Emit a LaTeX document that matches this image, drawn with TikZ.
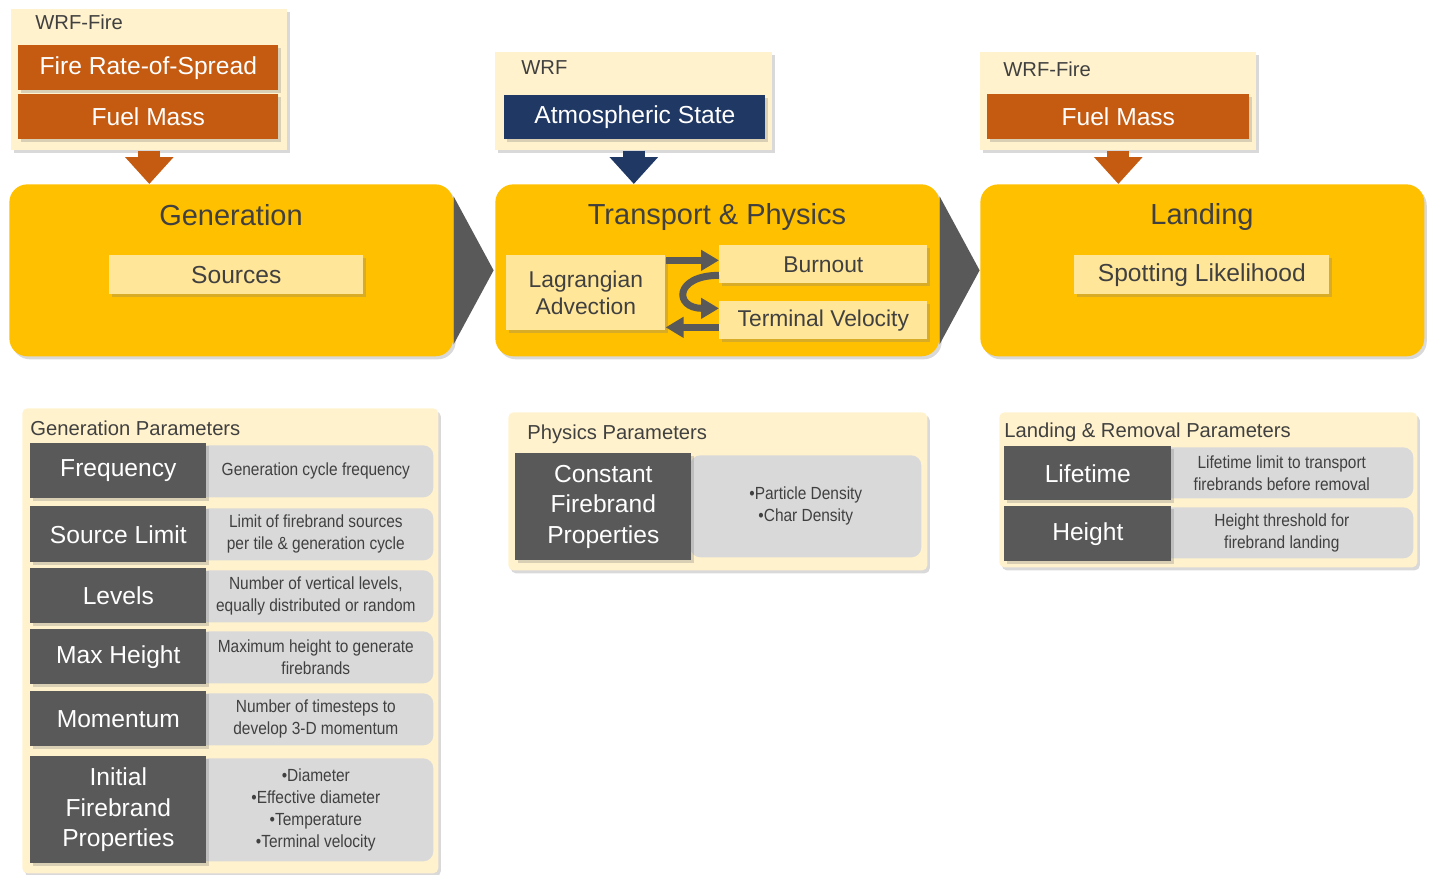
\documentclass[tikz,border=0pt]{standalone}
\usepackage{fontspec}
\setmainfont{Liberation Sans}
\newfontfamily\narrowfont[FakeStretch=0.88]{Liberation Sans}
\usetikzlibrary{shadows,arrows.meta}

\definecolor{gold}{HTML}{FFC000}
\definecolor{paleyellow}{HTML}{FFF2CC}
\definecolor{softyellow}{HTML}{FFE699}
\definecolor{rust}{HTML}{C55A11}
\definecolor{navy}{HTML}{203864}
\definecolor{slate}{HTML}{595959}
\definecolor{mist}{HTML}{D9D9D9}
\definecolor{ink}{HTML}{404040}

\begin{document}
\begin{tikzpicture}[x = 0.02cm, y = -0.02cm,
            every node/.style = {inner sep = 0pt, anchor = north west, align = center},
            lift/.style = {drop shadow = {shadow xshift = 0.05cm, shadow yshift = -0.06cm, opacity = 0.3}},
            srcbox/.style = {fill = paleyellow, lift},
            bar/.style = {fill = #1, text = white, minimum width = 5.2cm, minimum height = 0.9cm,
                font = \fontsize{14}{17}\selectfont, lift},
            stage/.style = {fill = gold, rounded corners = 0.36cm, minimum width = 8.88cm,
                minimum height = 3.44cm, lift},
            stagetitle/.style = {anchor = base, text = ink, font = \fontsize{16.5}{20}\selectfont},
            subbox/.style = {fill = softyellow, text = ink, font = \fontsize{14}{16}\selectfont, lift},
            caption/.style = {anchor = base west, text = ink, font = \fontsize{11.5}{14}\selectfont},
            panel/.style = {fill = paleyellow, rounded corners = 0.1cm, lift},
            param/.style = {fill = slate, text = white, font = \fontsize{14}{17.3}\selectfont, lift},
            note/.style = {fill = mist, rounded corners = 0.2cm, text = ink,
                font = \narrowfont\fontsize{10}{12.5}\selectfont},
            feed/.style = {draw = #1, line width = 0.44cm, -{Triangle[width = 0.94cm, length = 0.54cm]}},
            flow/.style = {draw = slate, line width = 0.14cm, -{Triangle[width = 0.4cm, length = 0.36cm]}},
            chevron/.style = {fill = slate}]
            \useasboundingbox (0,0) rectangle (1431,875);

            % model inputs
            \node[srcbox, minimum width = 5.52cm, minimum height = 2.82cm] (wrffire) at (11,9) {};
            \node[caption] (wrffirelbl) at (35,30) {WRF-Fire};
            \node[bar = rust] (spread) at (18,45) {Fire Rate-of-Spread};
            \node[bar = rust] (fuel) at (18,94) {Fuel Mass};

            \node[srcbox, minimum width = 5.54cm, minimum height = 1.96cm] (wrf) at (495,52) {};
            \node[caption] (wrflbl) at (521,75) {WRF};
            \node[bar = navy, minimum width = 5.22cm, minimum height = 0.88cm] (atmos) at (504,95) {Atmospheric State};

            \node[srcbox, minimum width = 5.52cm, minimum height = 1.96cm] (wrffire2) at (980,52) {};
            \node[caption] (wrffire2lbl) at (1003,77) {WRF-Fire};
            \node[bar = rust, minimum width = 5.24cm] (fuel2) at (987,94) {Fuel Mass};

            % stages
            \node[stage] (gen) at (9,184) {};
            \node[stage] (trans) at (495,184) {};
            \node[stage] (land) at (980,184) {};
            \fill[chevron] (gen.east) ++(0,-74) -- ++(40,74) -- ++(-40,74) -- cycle;
            \fill[chevron] (trans.east) ++(0,-74) -- ++(40,74) -- ++(-40,74) -- cycle;

            \node[stagetitle] (gentitle) at (231,225) {Generation};
            \node[stagetitle] (transtitle) at (717,224) {Transport \& Physics};
            \node[stagetitle] (landtitle) at (1202,224) {Landing};

            \draw[feed = rust] (wrffire.south) -- (wrffire.south |- gen.north);
            \draw[feed = navy] (wrf.south) -- (wrf.south |- trans.north);
            \draw[feed = rust] (wrffire2.south) -- (wrffire2.south |- land.north);

            \node[subbox, minimum width = 5.08cm, minimum height = 0.78cm] (sources) at (109,255) {Sources};
            \node[subbox, minimum width = 3.18cm, minimum height = 1.5cm,
                font = \fontsize{13}{15.9}\selectfont] (lagr) at (506,255) {Lagrangian\\Advection};
            \node[subbox, minimum width = 4.16cm, minimum height = 0.76cm,
                font = \fontsize{13}{15}\selectfont] (burn) at (719,245) {Burnout};
            \node[subbox, minimum width = 4.16cm, minimum height = 0.76cm,
                font = \fontsize{13}{15}\selectfont] (term) at (719,301) {Terminal Velocity};
            \node[subbox, minimum width = 5.1cm, minimum height = 0.78cm] (spot) at (1074,255) {Spotting Likelihood};

            \coordinate (toburn) at ([yshift = 0.08cm]burn.west);
            \coordinate (fromterm) at ([yshift = -0.14cm]term.west);
            \draw[flow] (toburn -| lagr.east) -- (toburn);
            \draw[flow] (fromterm) -- (fromterm -| lagr.east);
            \draw[flow] ([yshift = -0.22cm]burn.west) .. controls +(-45,0) and +(-45,0) .. ([yshift = 0.24cm]term.west);

            % generation parameters
            \node[panel, minimum width = 8.32cm, minimum height = 9.3cm] (genpar) at (22,408) {};
            \node[caption] (genparlbl) at (30,435) {Generation Parameters};

            \node[note, minimum width = 4.7cm, minimum height = 1.04cm] (freqnote) at (198,445) {Generation cycle frequency};
            \node[param, minimum width = 3.52cm, minimum height = 1.1cm] (freq) at (30,443) {Frequency};
            \node[note, minimum width = 4.7cm, minimum height = 1.04cm] (limitnote) at (198,508) {Limit of firebrand sources\\per tile \& generation cycle};
            \node[param, minimum width = 3.52cm, minimum height = 1.12cm] (limit) at (30,506) {Source Limit};
            \node[note, minimum width = 4.7cm, minimum height = 1.04cm] (levelsnote) at (198,570) {Number of vertical levels,\\equally distributed or random};
            \node[param, minimum width = 3.52cm, minimum height = 1.1cm] (levels) at (30,568) {Levels};
            \node[note, minimum width = 4.7cm, minimum height = 1.04cm] (maxhnote) at (198,631) {Maximum height to generate\\firebrands};
            \node[param, minimum width = 3.52cm, minimum height = 1.1cm] (maxh) at (30,629) {Max Height};
            \node[note, minimum width = 4.7cm, minimum height = 1.04cm] (momnote) at (198,693) {Number of timesteps to\\develop 3-D momentum};
            \node[param, minimum width = 3.52cm, minimum height = 1.1cm] (mom) at (30,691) {Momentum};
            \node[note, minimum width = 4.7cm, minimum height = 2.06cm] (initnote) at (198,758) {•Diameter\\•Effective diameter\\•Temperature\\•Terminal velocity};
            \node[param, minimum width = 3.52cm, minimum height = 2.14cm] (init) at (30,756) {Initial\\Firebrand\\Properties};

            % physics parameters
            \node[panel, minimum width = 8.38cm, minimum height = 3.16cm] (phypar) at (508,412) {};
            \node[caption] (phyparlbl) at (527,439) {Physics Parameters};
            \node[note, minimum width = 4.62cm, minimum height = 2.04cm] (constnote) at (690,455) {•Particle Density\\•Char Density};
            \node[param, minimum width = 3.52cm, minimum height = 2.14cm] (const) at (515,453) {Constant\\Firebrand\\Properties};

            % landing parameters
            \node[panel, minimum width = 8.36cm, minimum height = 3.1cm] (landpar) at (999,412) {};
            \node[caption] (landparlbl) at (1004,437) {Landing \& Removal Parameters};
            \node[note, minimum width = 5.26cm, minimum height = 1.02cm] (lifenote) at (1150,447) {Lifetime limit to transport\\firebrands before removal};
            \node[param, minimum width = 3.34cm, minimum height = 1.08cm] (life) at (1004,446) {Lifetime};
            \node[note, minimum width = 5.26cm, minimum height = 1.02cm] (heightnote) at (1150,507) {Height threshold for\\firebrand landing};
            \node[param, minimum width = 3.34cm, minimum height = 1.1cm] (height) at (1004,506) {Height};
        \end{tikzpicture}
\end{document}
